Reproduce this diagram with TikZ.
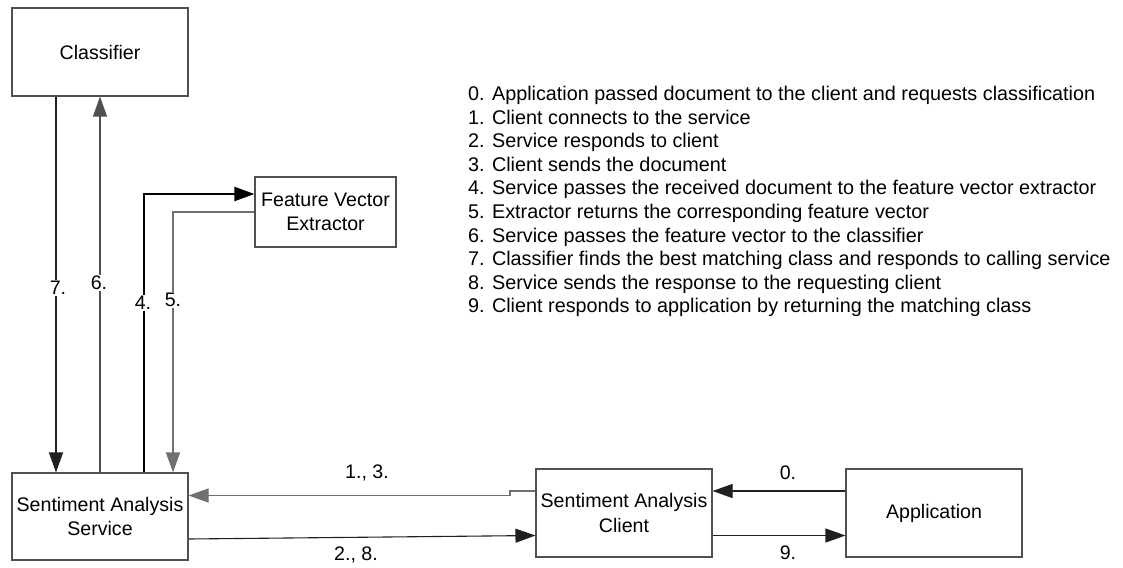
\documentclass[tikz,border=0pt]{standalone}
\usepackage{fontspec}
\setmainfont{Liberation Sans}
\usetikzlibrary{arrows.meta,calc}
\definecolor{boxline}{HTML}{505050}
\definecolor{lightline}{HTML}{707070}
\definecolor{darkline}{HTML}{202020}
\tikzset{
  box/.style={draw=boxline, line width=1.1pt, minimum width=176pt, align=center,
              inner sep=0pt, font=\fontsize{19.6}{24.5}\selectfont},
  conn/.style={line width=1.1pt, draw=darkline,
               -{Triangle[length=20pt,width=14pt]}},
  lbl/.style={fill=white, inner sep=1.5pt, font=\fontsize{19.6}{23}\selectfont}
}
\begin{document}
\begin{tikzpicture}[x=1pt, y=-1pt]
\path[use as bounding box] (0,0) rectangle (1123,567);

% components
\node[box, minimum height=88pt] (cls) at (100,52) {Classifier};
\node[box, minimum width=141pt, minimum height=70pt] (fve) at (325.5,212) {Feature Vector\\Extractor};
\node[box, minimum height=87pt] (svc) at (100,516.5) {Sentiment Analysis\\Service};
\node[box, minimum height=88pt] (cli) at (624,513) {Sentiment Analysis\\Client};
\node[box, minimum height=88pt] (app) at (934,513) {Application};

% routing points
\coordinate (x7) at (56,0);
\coordinate (x6) at (100,0);
\coordinate (p4) at (144,194);
\coordinate (p5) at (173,212);
\coordinate (ya) at (0,491);
\coordinate (yb) at (0,495.5);
\coordinate (yc) at (0,539);
\coordinate (yd) at (0,535.5);
\coordinate (jog) at (510,491);

% service <-> classifier
\draw[conn] (cls.south -| x7) -- (svc.north -| x7);
\draw[conn, draw=boxline] (svc.north -| x6) -- (cls.south -| x6);

% service <-> feature vector extractor
\draw[conn, line width=2pt, draw=black] (svc.north -| p4) |- (fve.west |- p4);
\draw[conn, draw=lightline] (fve.west |- p5) -| (svc.north -| p5);

% service <-> client
\draw[conn, draw=lightline] (cli.west |- ya) -- (jog) -- (jog |- yb) -- (svc.east |- yb);
\draw[conn, draw=darkline] (svc.east |- yc) -- (cli.west |- yd);

% client <-> application
\draw[conn, draw=darkline] (app.west |- ya) -- (cli.east |- ya);
\draw[conn, draw=darkline] (cli.east |- yd) -- (app.west |- yd);

% step labels
\node[lbl] (l7) at (58,288) {7.};
\node[lbl] (l6) at (99,283) {6.};
\node[lbl] (l4) at (143,303) {4.};
\node[lbl] (l5) at (173,300) {5.};
\node[lbl] (l13) at (367,473) {1., 3.};
\node[lbl] (l28) at (356,555) {2., 8.};
\node[lbl] (l0) at (788,473) {0.};
\node[lbl] (l9) at (788,553) {9.};

% step descriptions
\node[anchor=north west, align=left, inner sep=0pt,
      font=\fontsize{19.8}{23.6}\selectfont] (legend) at (468,86) {%
0. Application passed document to the client and requests classification\\
1. Client connects to the service\\
2. Service responds to client\\
3. Client sends the document\\
4. Service passes the received document to the feature vector extractor\\
5. Extractor returns the corresponding feature vector\\
6. Service passes the feature vector to the classifier\\
7. Classifier finds the best matching class and responds to calling service\\
8. Service sends the response to the requesting client\\
9. Client responds to application by returning the matching class};
\end{tikzpicture}
\end{document}
